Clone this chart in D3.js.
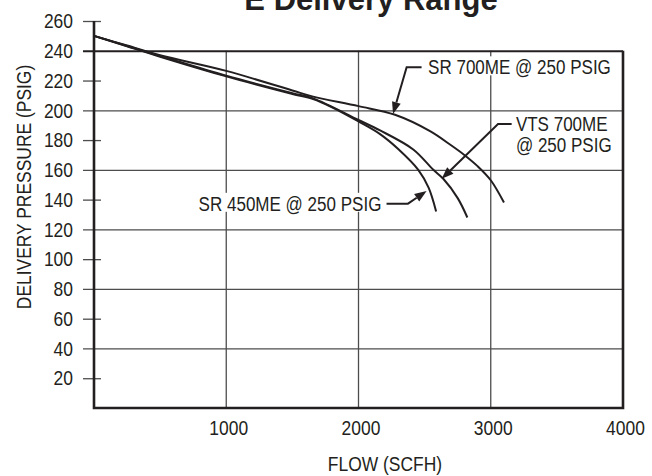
<!DOCTYPE html>
<html>
<head>
<meta charset="utf-8">
<script src="https://cdn.jsdelivr.net/npm/d3@7"></script>
<style>
  body { margin: 0; background: #fff; }
  svg { display: block; }
  text { fill: #231f20; font-family: "Liberation Sans", Arial, sans-serif; }
</style>
</head>
<body>
<svg></svg>
<script>
// flow (scfh) and delivery pressure (psig)
var sr700Flow  = [0, 250, 500, 1000, 1500, 1657, 2000, 2276, 2541, 2700, 2800, 2900, 3000, 3100];
var sr700Psig  = [250, 243.5, 237, 226.5, 213.3, 209.2, 202.8, 197, 186, 176.5, 170, 162.5, 153, 138];
var sr450Flow  = [0, 250, 500, 1000, 1500, 1657, 1800, 2000, 2163, 2300, 2452, 2530, 2587];
var sr450Psig  = [250, 243, 236, 222.8, 211, 207.5, 202, 192.5, 184, 174, 160, 148, 132];
var vtsFlow    = [0, 250, 500, 1000, 1500, 1657, 2000, 2163, 2414, 2566, 2641, 2750, 2823];
var vtsPsig    = [250, 243.2, 236.5, 223.3, 211.5, 208, 193.5, 186.5, 173.7, 160, 154, 141, 128];

var yTicks = [20, 40, 60, 80, 100, 120, 140, 160, 180, 200, 220, 240, 260];
var yGrid  = [40, 80, 120, 160, 200, 240];
var xTicks = [1000, 2000, 3000, 4000];
var xGrid  = [1000, 2000, 3000];

// callouts, all in data units: text spot, elbow, arrow tip
var callouts = [
  {lines: ["SR 700ME @ 250 PSIG"], anchor: "start", tx: 2526, ty: 229, ex1: 2477, ex2: 2364, tipX: 2261, tipY: 197.5},
  {lines: ["VTS 700ME", "@ 250 PSIG"], anchor: "start", tx: 3190, ty: 190.8, ex1: 3158, ex2: 3055, tipX: 2629, tipY: 154},
  {lines: ["SR 450ME @ 250 PSIG"], anchor: "end", tx: 2173, ty: 137.3, ex1: 2212, ex2: 2374, tipX: 2515, tipY: 145.8}
];

var W = 652, H = 476;
var ink = "#231f20";
var svg = d3.select("svg").attr("width", W).attr("height", H);
svg.append("rect").attr("width", W).attr("height", H).attr("fill", "#fff");

var x = d3.scaleLinear().domain([0, 4000]).range([94, 623]);
var y = d3.scaleLinear().domain([0, 260]).range([408, 21]);

// squeeze regular text to look like a condensed face
function narrow(sel) {
  sel.each(function() {
    var w = this.getComputedTextLength();
    d3.select(this).attr("textLength", w * 0.83).attr("lengthAdjust", "spacingAndGlyphs");
  });
}

// title, cut off at the top like the original
svg.append("text")
  .attr("x", 371).attr("y", 10)
  .attr("text-anchor", "middle")
  .style("font-weight", "bold")
  .style("font-size", "31px")
  .text("E Delivery Range");

// vertical grid
svg.selectAll(".vgrid").data(xGrid).enter().append("line")
  .attr("x1", x).attr("x2", x)
  .attr("y1", y(0)).attr("y2", y(240))
  .attr("stroke", "#4d4d4d").attr("stroke-width", 1.3);

// y axis with grid lines as long ticks
var yAxis = svg.append("g")
  .attr("transform", "translate(" + x(0) + ",0)")
  .call(d3.axisLeft(y).tickValues(yTicks).tickSize(11).tickPadding(10));
yAxis.select(".domain").remove();
yAxis.selectAll(".tick line")
  .attr("x1", -11)
  .attr("x2", function(d) { return yGrid.indexOf(d) >= 0 ? x(4000) - x(0) : 7; })
  .attr("stroke", function(d) { return d == 240 ? ink : "#4d4d4d"; })
  .attr("stroke-width", function(d) { return d == 240 ? 2 : 1.3; });
yAxis.selectAll(".tick text")
  .style("font-size", "21px")
  .attr("font-family", null)
  .attr("fill", ink)
  .call(narrow);

// x axis labels
var xAxis = svg.append("g")
  .attr("transform", "translate(0," + y(0) + ")")
  .call(d3.axisBottom(x).tickValues(xTicks).tickFormat(d3.format("d")).tickSize(0).tickPadding(12));
xAxis.select(".domain").remove();
xAxis.selectAll(".tick text")
  .style("font-size", "21px")
  .attr("font-family", null)
  .attr("fill", ink)
  .attr("dx", 2)
  .call(narrow);

// frame
svg.append("path")
  .attr("d", "M" + x(0) + "," + y(260) + "V" + y(0) + "H" + x(4000) + "V" + y(240))
  .attr("fill", "none").attr("stroke", ink).attr("stroke-width", 2.6);

// curves
var line = d3.line()
  .x(function(d) { return x(d[0]); })
  .y(function(d) { return y(d[1]); })
  .curve(d3.curveCatmullRom.alpha(0.5));

var curves = [
  d3.zip(sr450Flow, sr450Psig),
  d3.zip(vtsFlow, vtsPsig),
  d3.zip(sr700Flow, sr700Psig)
];
svg.selectAll(".curve").data(curves).enter().append("path")
  .attr("d", line)
  .attr("fill", "none").attr("stroke", ink).attr("stroke-width", 2);

// callouts
callouts.forEach(function(c) {
  var g = svg.append("g");
  g.selectAll("text").data(c.lines).enter().append("text")
    .attr("x", x(c.tx))
    .attr("y", function(d, i) { return y(c.ty) + i * 21; })
    .attr("dy", "0.35em")
    .attr("text-anchor", c.anchor)
    .style("font-size", "20.5px")
    .text(function(d) { return d; })
    .call(narrow);
  var bb = g.node().getBBox();
  g.insert("rect", "text")
    .attr("x", bb.x - 1).attr("y", bb.y + 1)
    .attr("width", bb.width + 2).attr("height", bb.height - 4)
    .attr("fill", "#fff");

  var tx = x(c.tipX), ty = y(c.tipY);
  var sx = x(c.ex2), sy = y(c.ty);
  var ang = Math.atan2(ty - sy, tx - sx);
  var len = 12, half = 4.5;
  var bx = tx - len * Math.cos(ang), by = ty - len * Math.sin(ang);
  svg.append("path")
    .attr("d", "M" + x(c.ex1) + "," + sy + "H" + sx + "L" + bx + "," + by)
    .attr("fill", "none").attr("stroke", ink).attr("stroke-width", 2);
  svg.append("path")
    .attr("d", "M" + tx + "," + ty +
      "L" + (bx + half * Math.sin(ang)) + "," + (by - half * Math.cos(ang)) +
      "L" + (bx - half * Math.sin(ang)) + "," + (by + half * Math.cos(ang)) + "Z")
    .attr("fill", ink);
});

// axis titles
svg.append("text")
  .attr("transform", "translate(31,187) rotate(-90)")
  .attr("text-anchor", "middle")
  .style("font-size", "21px")
  .text("DELIVERY PRESSURE (PSIG)")
  .call(narrow);

svg.append("text")
  .attr("x", 385).attr("y", 471)
  .attr("text-anchor", "middle")
  .style("font-size", "21px")
  .text("FLOW (SCFH)")
  .call(narrow);
</script>
</body>
</html>
